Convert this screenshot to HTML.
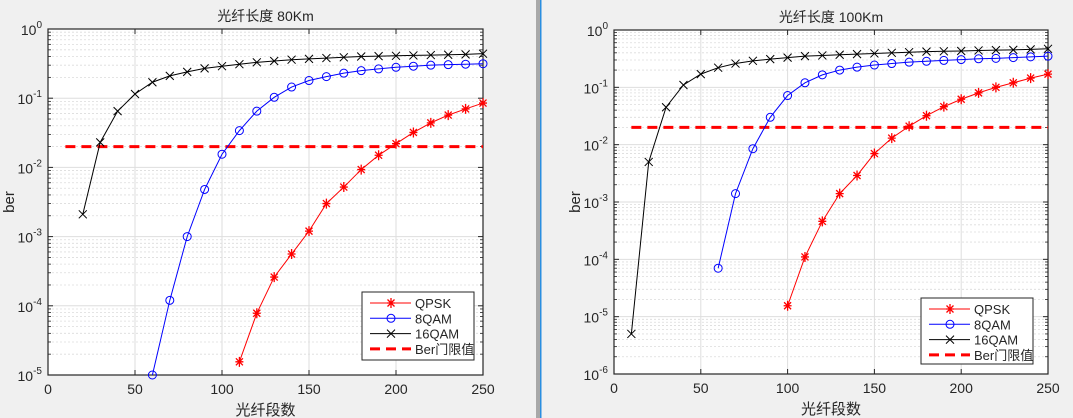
<!DOCTYPE html>
<html><head><meta charset="utf-8"><style>
html,body{margin:0;padding:0;background:#f0f0f0;}
svg{display:block;font-family:"Liberation Sans","Noto Sans CJK SC",sans-serif;}
</style></head><body>
<svg id="c" width="1073" height="418" xmlns="http://www.w3.org/2000/svg">
<rect x="0" y="0" width="1073" height="418" fill="#f0f0f0"/>
<rect x="536" y="0" width="4" height="418" fill="#a8a8a8"/>
<rect x="540" y="0" width="1.5" height="418" fill="#2a8ee0"/>
</svg>
<script>
const xVals = [10,20,30,40,50,60,70,80,90,100,110,120,130,140,150,160,170,180,190,200,210,220,230,240,250];
const threshold = 0.02;
const xTicks = [0,50,100,150,200,250];
// 80Km panel
const a_qpsk_x = [110,120,130,140,150,160,170,180,190,200,210,220,230,240,250];
const a_qpsk = [1.55e-5,7.8e-5,2.6e-4,5.6e-4,1.2e-3,3e-3,5.2e-3,9.3e-3,1.5e-2,2.2e-2,3.2e-2,4.4e-2,5.7e-2,7e-2,8.5e-2];
const a_8qam_x = [60,70,80,90,100,110,120,130,140,150,160,170,180,190,200,210,220,230,240,250];
const a_8qam = [1e-5,1.2e-4,1e-3,4.8e-3,1.55e-2,3.4e-2,6.5e-2,0.103,0.145,0.18,0.205,0.23,0.25,0.265,0.28,0.29,0.30,0.305,0.31,0.315];
const a_16qam_x = [20,30,40,50,60,70,80,90,100,110,120,130,140,150,160,170,180,190,200,210,220,230,240,250];
const a_16qam = [2.1e-3,2.3e-2,6.5e-2,0.115,0.17,0.21,0.24,0.27,0.29,0.31,0.33,0.345,0.36,0.37,0.38,0.39,0.40,0.405,0.41,0.415,0.42,0.425,0.43,0.44];
// 100Km panel
const b_qpsk_x = [100,110,120,130,140,150,160,170,180,190,200,210,220,230,240,250];
const b_qpsk = [1.55e-5,1.1e-4,4.6e-4,1.4e-3,2.9e-3,7e-3,1.3e-2,2.1e-2,3.2e-2,4.6e-2,6.2e-2,8e-2,0.1,0.12,0.145,0.17];
const b_8qam_x = [60,70,80,90,100,110,120,130,140,150,160,170,180,190,200,210,220,230,240,250];
const b_8qam = [7e-5,1.4e-3,8.5e-3,3e-2,7.2e-2,0.12,0.165,0.2,0.225,0.245,0.26,0.275,0.285,0.295,0.305,0.315,0.32,0.33,0.34,0.35];
const b_16qam_x = [10,20,30,40,50,60,70,80,90,100,110,120,130,140,150,160,170,180,190,200,210,220,230,240,250];
const b_16qam = [5e-6,5e-3,4.5e-2,0.11,0.17,0.22,0.26,0.29,0.31,0.33,0.35,0.36,0.37,0.38,0.39,0.40,0.41,0.42,0.425,0.43,0.44,0.445,0.45,0.46,0.47];

const NS="http://www.w3.org/2000/svg";
const svg=document.getElementById('c');
function mk(tag,attrs,parent){const e=document.createElementNS(NS,tag);for(const k in attrs)e.setAttribute(k,attrs[k]);(parent||svg).appendChild(e);return e;}

function panel(cfg){
  const g=mk('g',{});
  
  
  const {L,R,T,B,minExp}=cfg;
  const sx=v=>L+(v-0)/(250-0)*(R-L);
  const sy=v=>B-(Math.log10(v)-minExp)/(0-minExp)*(B-T);
  mk('rect',{x:L,y:T,width:R-L,height:B-T,fill:'#fff'},g);
  // minor grid
  for(let e=minExp;e<0;e++){for(let m=2;m<=9;m++){const y=sy(m*Math.pow(10,e));
    mk('line',{x1:L,x2:R,y1:y,y2:y,stroke:'#dcdcdc','stroke-width':0.8,'stroke-dasharray':'2,2'},g);
    mk('line',{x1:L,x2:L+3,y1:y,y2:y,stroke:'#262626','stroke-width':0.8},g);
    mk('line',{x1:R,x2:R-3,y1:y,y2:y,stroke:'#262626','stroke-width':0.8},g);}}
  // major grid
  for(let e=minExp;e<=0;e++){const y=sy(Math.pow(10,e));
    mk('line',{x1:L,x2:R,y1:y,y2:y,stroke:'#dedede','stroke-width':1},g);
    mk('line',{x1:L,x2:L+5,y1:y,y2:y,stroke:'#262626'},g);
    mk('line',{x1:R,x2:R-5,y1:y,y2:y,stroke:'#262626'},g);
    const t=mk('text',{x:L-6,y:y+6,'text-anchor':'end','font-size':14,fill:'#262626'},g);
    
    
    t.textContent='10';
    const s=mk('tspan',{dy:-7,'font-size':10},t); s.textContent=String(e);
  }
  xTicks.forEach(v=>{const x=sx(v);
    mk('line',{x1:x,x2:x,y1:T,y2:B,stroke:'#dedede'},g);
    mk('line',{x1:x,x2:x,y1:B,y2:B-5,stroke:'#262626'},g);
    mk('line',{x1:x,x2:x,y1:T,y2:T+5,stroke:'#262626'},g);
    const t=mk('text',{x:x,y:B+19,'text-anchor':'middle','font-size':14,fill:'#262626'},g);
    
    
    t.textContent=v;});
  mk('rect',{x:L,y:T,width:R-L,height:B-T,fill:'none',stroke:'#262626','stroke-width':1.2},g);
  // threshold
  const th=mk('line',{x1:sx(10),x2:sx(250),y1:sy(threshold),y2:sy(threshold),stroke:'#ff0000','stroke-width':3,'stroke-dasharray':'10,6'},g);
  
  
  function series(xs,ys,color,marker,name){
    const pl=mk('polyline',{points:xs.map((x,i)=>sx(x)+','+sy(ys[i])).join(' '),fill:'none',stroke:color,'stroke-width':1},g);
    
    
    xs.forEach((x,i)=>drawMarker(g,sx(x),sy(ys[i]),color,marker,name));
  }
  series(cfg.qx,cfg.q,'#ff0000','star','qpsk');
  series(cfg.ex,cfg.e,'#0000ff','circle','8qam');
  series(cfg.hx,cfg.h,'#000000','x','16qam');
  // title, labels
  const tt=mk('text',{x:(L+R)/2,y:T-8,'text-anchor':'middle','font-size':14,fill:'#262626'},g);
  
  
  tt.textContent=cfg.title;
  const xl=mk('text',{x:(L+R)/2,y:B+40,'text-anchor':'middle','font-size':15,fill:'#262626'},g);
  
  
  xl.textContent='光纤段数';
  const yl=mk('text',{x:0,y:0,'text-anchor':'middle','font-size':15,fill:'#262626',transform:`translate(${cfg.ylx},${(T+B)/2}) rotate(-90)`},g);
  
  
  yl.textContent='ber';
  // legend
  const [lx,ly,lw,lh]=cfg.leg;
  const lg=mk('g',{},g);
  
  
  mk('rect',{x:lx,y:ly,width:lw,height:lh,fill:'#fff',stroke:'#262626'},lg);
  const items=[['QPSK','#ff0000','star'],['8QAM','#0000ff','circle'],['16QAM','#000','x'],['Ber门限值','#ff0000','dash']];
  items.forEach((it,i)=>{const y=ly+11+i*15.3;
    const e=mk('g',{},lg);
    
    
    if(it[2]==='dash') mk('line',{x1:lx+8,x2:lx+49,y1:y,y2:y,stroke:it[1],'stroke-width':3,'stroke-dasharray':'10,6'},e);
    else {mk('line',{x1:lx+8,x2:lx+49,y1:y,y2:y,stroke:it[1]},e);drawMarker(e,lx+29,y,it[1],it[2],'legend');}
    const t=mk('text',{x:lx+53,y:y+5,'font-size':13,fill:'#262626'},e);t.textContent=it[0];});
}
function drawMarker(g,x,y,c,m,name){
  let el;
  if(m==='circle') el=mk('circle',{cx:x,cy:y,r:4,fill:'none',stroke:c},g);
  else if(m==='x') el=mk('path',{d:`M${x-4},${y-4}L${x+4},${y+4}M${x-4},${y+4}L${x+4},${y-4}`,stroke:c},g);
  else el=mk('path',{d:`M${x-4},${y}L${x+4},${y}M${x},${y-5}L${x},${y+5}M${x-3.5},${y-3.5}L${x+3.5},${y+3.5}M${x-3.5},${y+3.5}L${x+3.5},${y-3.5}`,stroke:c,'stroke-width':1.3},g);
  
  
}
panel({name:'panel-80km',title:'光纤长度 80Km',L:48,R:483,T:29,B:375,minExp:-5,ylx:14,
  qx:a_qpsk_x,q:a_qpsk,ex:a_8qam_x,e:a_8qam,hx:a_16qam_x,h:a_16qam,leg:[362,292,112,68]});
panel({name:'panel-100km',title:'光纤长度 100Km',L:614,R:1048,T:30,B:374,minExp:-6,ylx:580,
  qx:b_qpsk_x,q:b_qpsk,ex:b_8qam_x,e:b_8qam,hx:b_16qam_x,h:b_16qam,leg:[921,298,112,66]});
</script>
</body></html>
